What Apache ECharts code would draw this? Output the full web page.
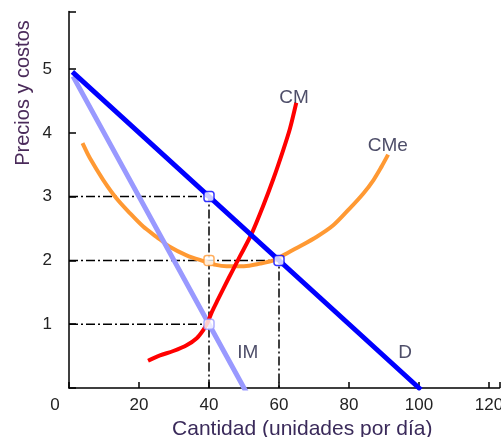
<!DOCTYPE html>
<html><head><meta charset="utf-8">
<script src="https://cdn.jsdelivr.net/npm/echarts@6/dist/echarts.min.js"></script>
<style>html,body{margin:0;padding:0;background:#fff}#c{width:501px;height:437px}</style>
</head><body><div id="c"></div>
<script>
// Demand D: [x, y]
const demandD = [[1.5, 4.93], [100, 0]];
// Marginal revenue IM
const revenueIM = [[1.5, 4.85], [50.5, -0.05]];
// Marginal cost CM
const costCM = [[23.1,0.44],[26,0.51],[29.8,0.58],[33.6,0.67],[36.5,0.78],[38.4,0.91],[39.6,1.03],[40.9,1.2],[42.5,1.38],[45.6,1.72],[48.9,2.07],[52.2,2.42],[55.3,2.83],[58.4,3.28],[61.2,3.73],[63.1,4.06],[64.8,4.44]];
// Average cost CMe
const costCMe = [[4.1,3.81],[6.0,3.60],[9.8,3.26],[13.6,2.97],[17.4,2.74],[21.2,2.53],[25.0,2.37],[28.9,2.21],[33.6,2.08],[38.4,1.99],[42,1.93],[45,1.91],[50,1.91],[54.6,1.95],[58.4,2.0],[61.2,2.08],[66,2.22],[70.8,2.37],[75.5,2.55],[80.3,2.82],[84.1,3.05],[87,3.26],[89.3,3.47],[90.9,3.63]];
// Reference (dash-dot) guides
const guide1 = [[0,3],[40,3],[40,0]];
const guide2 = [[0,2],[60,2],[60,0]];
const guide3 = [[0,1],[40,1]];
// Highlighted points
const pointsD = [[40,3],[60,2]];
const pointsCMe = [[40,2]];
const pointsIM = [[40,1]];
// Curve labels
const curveLabels = [['CM',64.3,4.55],['CMe',91.1,3.8],['IM',51.1,0.56],['D',96,0.56]];
const xTicks = [0,20,40,60,80,100,120];
const yTicks = [1,2,3,4,5];
const xTitle = 'Cantidad (unidades por día)';
const yTitle = 'Precios y costos';

const FONT = '"Liberation Sans", Arial, sans-serif';
const dash = [9,3,2,3];
const chart = echarts.init(document.getElementById('c'), null, {renderer:'canvas'});
function guide(d){return {type:'line',data:d,symbol:'none',silent:true,z:1,
  lineStyle:{color:'#000',width:1.5,type:dash}};}
function curve(d,color,w){return {type:'line',data:d,symbol:'none',smooth:0.3,z:3,
  lineStyle:{color:color,width:w,cap:'square'}};}
function pts(d,color){return {type:'scatter',data:d,symbol:'roundRect',symbolSize:10,z:5,
  itemStyle:{color:'#fff',borderColor:color,borderWidth:1.5}};}
chart.setOption({
  animation:false,
  grid:{left:69,top:11.6,width:430.5,height:376.4,containLabel:false,outerBoundsMode:'none'},
  xAxis:{type:'value',min:0,max:123,interval:20,
    axisLine:{lineStyle:{color:'#000',width:1.5}},
    axisTick:{inside:true,length:6,lineStyle:{color:'#000',width:1.5}},
    splitLine:{show:false},
    axisLabel:{fontFamily:FONT,fontSize:17,color:'#222',margin:9,hideOverlap:false,
      formatter:v=>xTicks.indexOf(v)<0?'':(v===0?'{z|0}':String(v)),
      rich:{z:{fontFamily:FONT,fontSize:17,color:'#222',padding:[0,28,0,0]}}},
    name:xTitle,nameLocation:'middle',nameGap:29,
    nameTextStyle:{fontFamily:FONT,fontSize:21,color:'#3a2a5a',padding:[0,0,0,36]}},
  yAxis:{type:'value',min:0,max:5.9,interval:1,
    axisLine:{lineStyle:{color:'#000',width:1.5}},
    axisTick:{inside:true,length:7,lineStyle:{color:'#000',width:1.5}},
    splitLine:{show:false},
    axisLabel:{fontFamily:FONT,fontSize:17,color:'#222',margin:17,padding:[0,0,10,0],
      formatter:v=>yTicks.indexOf(v)<0?'':String(v)}},
  graphic:[{type:'text',x:23,y:93,rotation:Math.PI/2,
    style:{text:yTitle,fontFamily:FONT,fontSize:20,fill:'#4a2a5a',align:'center',verticalAlign:'middle'}}],
  series:[
    guide(guide1),guide(guide2),guide(guide3),
    curve(costCMe,'#ff9933',4),
    curve(revenueIM,'#9999ff',5),
    curve(costCM,'#ff0000',4),
    curve(demandD,'#0000ff',5),
    pts(pointsD,'#0000ff'),pts(pointsCMe,'#ff9933'),pts(pointsIM,'#9999ff'),
    {type:'scatter',data:curveLabels.map(l=>({name:l[0],value:[l[1],l[2]]})),symbolSize:0,z:6,
      label:{show:true,position:'inside',formatter:p=>p.name,fontFamily:FONT,fontSize:19,color:'#222244'}}
  ]
});
</script></body></html>
